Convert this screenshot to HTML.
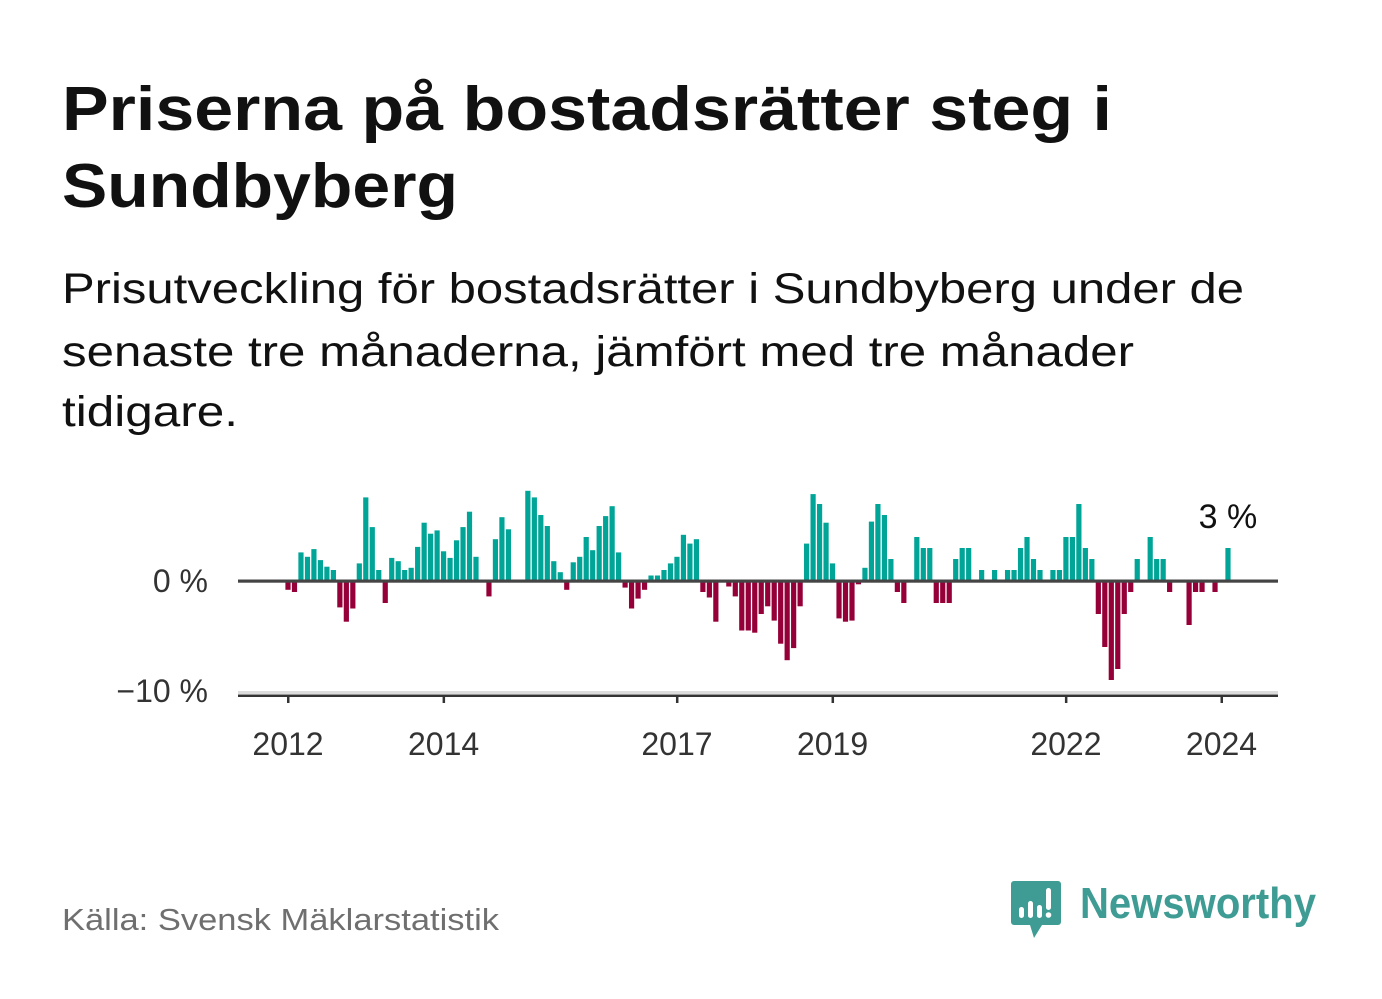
<!DOCTYPE html>
<html><head><meta charset="utf-8"><style>
html,body{margin:0;padding:0;background:#fff;}
svg{display:block;font-family:"Liberation Sans",sans-serif;}
</style></head><body>
<svg id="root" width="1382" height="999" viewBox="0 0 1382 999">
<rect width="1382" height="999" fill="#fff"/>
<text x="62" y="130" font-size="62" font-weight="bold" fill="#111" textLength="1050" lengthAdjust="spacingAndGlyphs">Priserna på bostadsrätter steg i</text>
<text x="62" y="207" font-size="62" font-weight="bold" fill="#111" textLength="396" lengthAdjust="spacingAndGlyphs">Sundbyberg</text>
<text x="62" y="303" font-size="43" fill="#111" textLength="1182" lengthAdjust="spacingAndGlyphs">Prisutveckling för bostadsrätter i Sundbyberg under de</text>
<text x="62" y="366" font-size="43" fill="#111" textLength="1072" lengthAdjust="spacingAndGlyphs">senaste tre månaderna, jämfört med tre månader</text>
<text x="62" y="426" font-size="43" fill="#111" textLength="176" lengthAdjust="spacingAndGlyphs">tidigare.</text>
<g id="plot"></g>
<text x="62" y="930" font-size="31" fill="#6f6f6f" textLength="437" lengthAdjust="spacingAndGlyphs">Källa: Svensk Mäklarstatistik</text>
<g>
<path d="M1014 881 h44 a3 3 0 0 1 3 3 v38 a3 3 0 0 1 -3 3 h-16 l-8 13 l-4 -13 h-16 a3 3 0 0 1 -3 -3 v-38 a3 3 0 0 1 3 -3z" fill="#3f9c94"/>
<rect x="1019" y="907" width="5" height="11" rx="2.5" fill="#fff"/>
<rect x="1028" y="901" width="5" height="17" rx="2.5" fill="#fff"/>
<rect x="1037" y="905" width="5" height="13" rx="2.5" fill="#fff"/>
<rect x="1046" y="888" width="5" height="22" rx="2.5" fill="#fff"/>
<circle cx="1048.5" cy="915" r="2.8" fill="#fff"/>
<text x="1080" y="918" font-size="44" font-weight="bold" fill="#3f9c94" textLength="236" lengthAdjust="spacingAndGlyphs">Newsworthy</text>
</g>
</svg>
<script>
// Monthly values (%), Jan 2012 .. Feb 2024
const startYear = 2012;
const values = [
-0.8,-1.0,2.6,2.2,2.9,1.9,1.3,1.0,-2.4,-3.7,-2.5,1.6,
7.6,4.9,1.0,-2.0,2.1,1.8,1.0,1.2,3.1,5.3,4.3,4.6,
2.7,2.1,3.7,4.9,6.3,2.2,0,-1.4,3.8,5.8,4.7,0,
0,8.2,7.6,6.0,5.0,1.8,0.8,-0.8,1.7,2.2,4.0,2.8,
5.0,5.9,6.8,2.6,-0.6,-2.5,-1.6,-0.8,0.5,0.5,1.0,1.6,
2.2,4.2,3.4,3.8,-1.0,-1.5,-3.7,0,-0.5,-1.4,-4.5,-4.5,
-4.7,-3.0,-2.3,-3.6,-5.7,-7.2,-6.1,-2.3,3.4,7.9,7.0,5.3,
1.6,-3.4,-3.7,-3.6,-0.3,1.2,5.4,7.0,6.0,2.0,-1.0,-2.0,
0,4,3,3,-2,-2,-2,2,3,3,0,1,
0,1,0,1,1,3,4,2,1,0,1,1,
4,4,7,3,2,-3,-6,-9,-8,-3,-1,2,
0,4,2,2,-1,0,0,-4,-1,-1,0,-1,
0,3];
const yTickValues = [0, -10];
const yTickLabels = ["0 %", "−10 %"];
const xTickYears = [2012, 2014, 2017, 2019, 2022, 2024];
const lastLabel = "3 %";

const NS = "http://www.w3.org/2000/svg";
const g = document.getElementById("plot");
const x = m => 288 + m * (1221.5 - 288) / 144;   // m = months since Jan 2012
const y = v => 581 + (-v) * 11;
function el(tag, attrs, parent) {
  const e = document.createElementNS(NS, tag);
  for (const k in attrs) e.setAttribute(k, attrs[k]);
  (parent || g).appendChild(e);
  return e;
}
// bottom axis band
const band = el("rect", {x: 238, y: y(-10), width: 1040, height: 3, fill: "#dcdcdc"});


const xaxis = el("rect", {x: 238, y: 694.5, width: 1040, height: 2.5, fill: "#333"});


// bars
values.forEach((v, i) => {
  if (v === 0) return;
  const top = v > 0 ? y(v) : y(0);
  const h = Math.abs(y(v) - y(0));
  const b = el("rect", {x: (x(i) - 2.6).toFixed(2), y: top.toFixed(2), width: 5.2, height: h.toFixed(2), fill: v > 0 ? "#00a598" : "#960038"});
  
  
});
// zero line
const zl = el("rect", {x: 238, y: y(0) - 1.5, width: 1040, height: 3.2, fill: "#444"});


// y tick labels
yTickValues.forEach((v, i) => {
  const t = el("text", {x: 208, y: y(v) + 11, "font-size": 32, fill: "#333", "text-anchor": "end"});
  t.textContent = yTickLabels[i];
  
  
});
// x ticks
xTickYears.forEach(yr => {
  const m = (yr - startYear) * 12;
  const tk = el("rect", {x: x(m) - 1, y: 696, width: 2.5, height: 7, fill: "#333"});
  
  
  const t = el("text", {x: x(m), y: 755, "font-size": 32, fill: "#333", "text-anchor": "middle"});
  t.textContent = String(yr);
  
  
});
// last value label
const li = values.length - 1;
const lab = el("text", {x: x(li), y: 528, "font-size": 34, fill: "#111", "text-anchor": "middle"});
lab.textContent = lastLabel;


</script>
</body></html>
